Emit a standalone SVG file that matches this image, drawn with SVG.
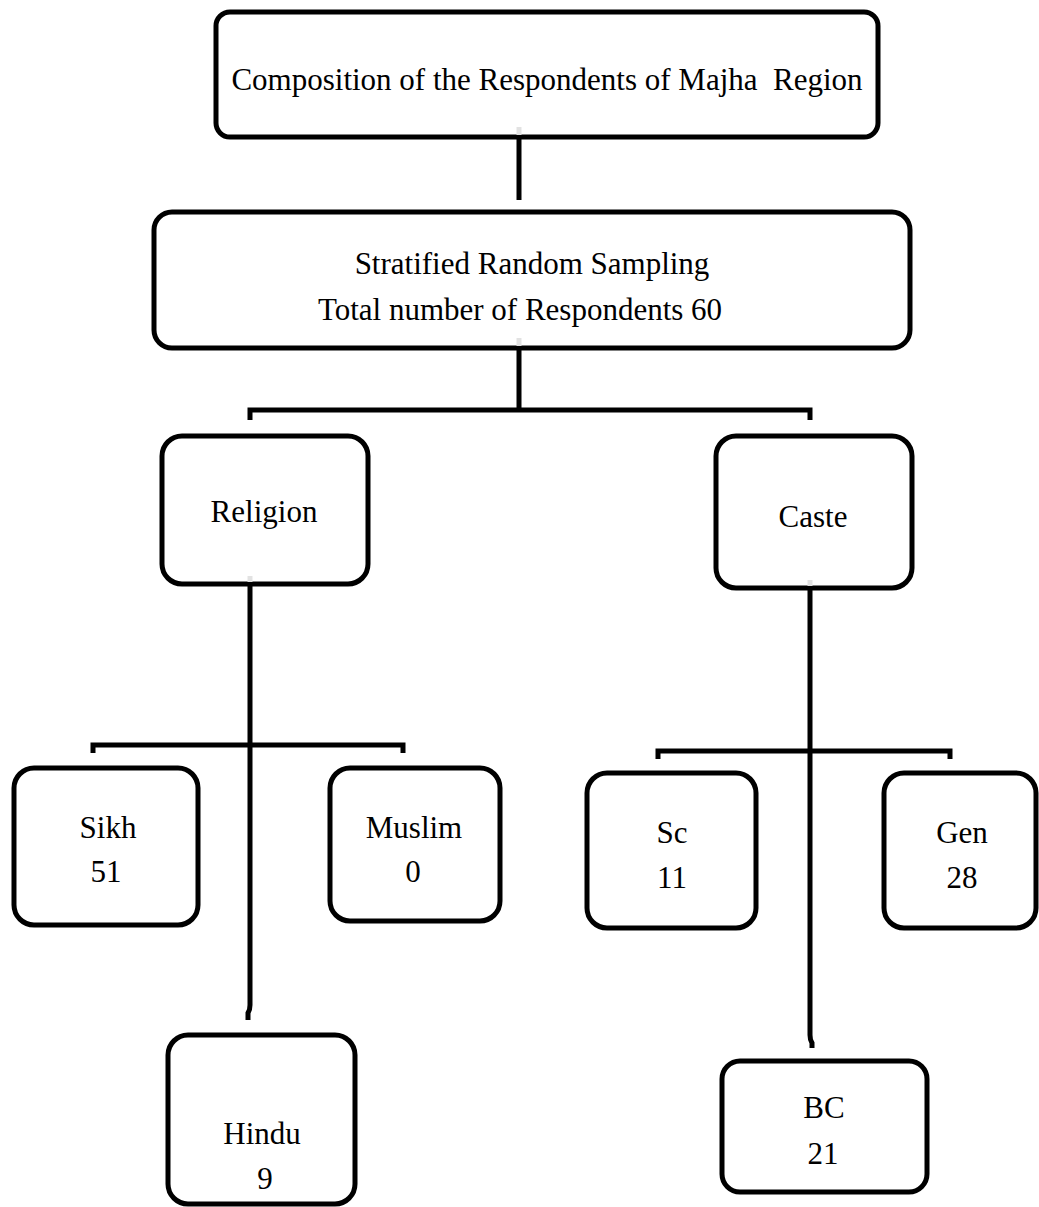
<svg xmlns="http://www.w3.org/2000/svg" width="1039" height="1207" viewBox="0 0 1039 1207">
  <style>
    .box { fill: #ffffff; stroke: #000000; stroke-width: 5; }
    .lbl { font-family: "Liberation Serif", "Times New Roman", serif; font-size: 31px; fill: #000000; text-anchor: middle; white-space: pre; }
    .wire { fill: none; stroke: #000000; stroke-width: 5; }
    .stub { fill: none; stroke: #e2e2e2; stroke-width: 5; }
  </style>
  <rect width="1039" height="1207" fill="#ffffff"/>

  <!-- connectors -->
  <g id="connectors">
    <path class="wire" d="M519 137 V200"/>
    <path class="wire" d="M519 349 V410 M250 420 V410 H810 V420"/>
    <path class="wire" d="M250 586 V1005 Q250 1010 248 1013 V1020"/>
    <path class="wire" d="M93 753 V745 H403 V753"/>
    <path class="wire" d="M810 590 V1035 Q810 1040 812 1043 V1048"/>
    <path class="wire" d="M658 759 V751 H950 V759"/>
  </g>

  <g id="n-root">
    <rect class="box" x="216" y="12" width="662" height="125" rx="14"/>
    <path class="stub" d="M519 127 V135"/>
    <text class="lbl" x="547" y="90" xml:space="preserve">Composition of the Respondents of Majha  Region</text>
  </g>

  <g id="n-sampling">
    <rect class="box" x="154" y="212" width="756" height="136" rx="18"/>
    <path class="stub" d="M519 338 V346"/>
    <text class="lbl" x="532" y="274">Stratified Random Sampling</text>
    <text class="lbl" x="520" y="320">Total number of Respondents 60</text>
  </g>

  <g id="n-religion">
    <rect class="box" x="162" y="436" width="206" height="148" rx="20"/>
    <path class="stub" d="M250 576 V582"/>
    <text class="lbl" x="264" y="522">Religion</text>
  </g>

  <g id="n-caste">
    <rect class="box" x="716" y="436" width="196" height="152" rx="20"/>
    <path class="stub" d="M810 580 V586"/>
    <text class="lbl" x="813" y="527">Caste</text>
  </g>

  <g id="n-sikh">
    <rect class="box" x="14" y="768" width="184" height="157" rx="20"/>
    <text class="lbl" x="108" y="838">Sikh</text>
    <text class="lbl" x="106" y="882">51</text>
  </g>

  <g id="n-muslim">
    <rect class="box" x="330" y="768" width="170" height="153" rx="20"/>
    <text class="lbl" x="414" y="838">Muslim</text>
    <text class="lbl" x="413" y="882">0</text>
  </g>

  <g id="n-hindu">
    <rect class="box" x="168" y="1035" width="187" height="169" rx="20"/>
    <text class="lbl" x="262" y="1144">Hindu</text>
    <text class="lbl" x="265" y="1189">9</text>
  </g>

  <g id="n-sc">
    <rect class="box" x="587" y="773" width="169" height="155" rx="20"/>
    <text class="lbl" x="672" y="843">Sc</text>
    <text class="lbl" x="672" y="888">11</text>
  </g>

  <g id="n-gen">
    <rect class="box" x="884" y="773" width="152" height="155" rx="20"/>
    <text class="lbl" x="962" y="843">Gen</text>
    <text class="lbl" x="962" y="888">28</text>
  </g>

  <g id="n-bc">
    <rect class="box" x="722" y="1061" width="205" height="131" rx="18"/>
    <text class="lbl" x="824" y="1118">BC</text>
    <text class="lbl" x="823" y="1164">21</text>
  </g>
</svg>
